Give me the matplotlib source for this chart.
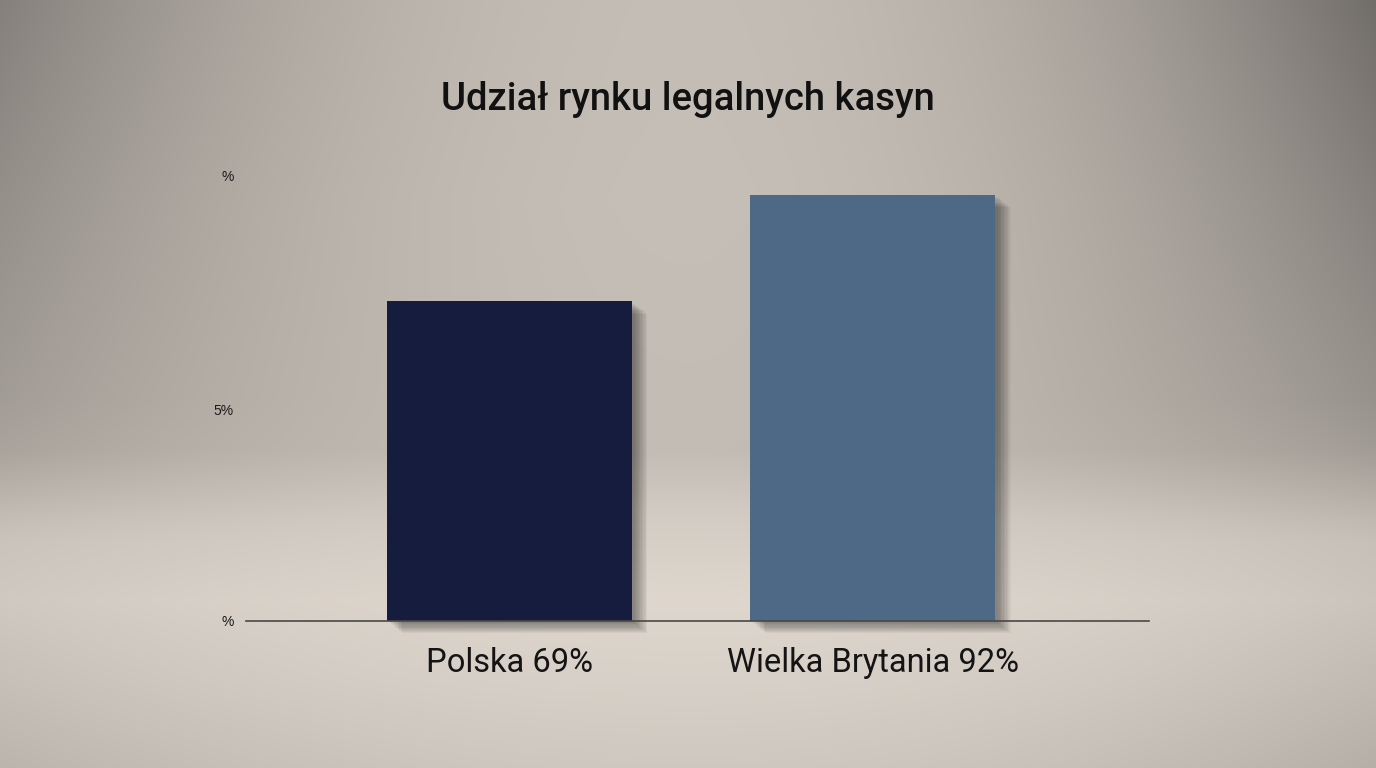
import numpy as np
import matplotlib
matplotlib.use("Agg")
import matplotlib.pyplot as plt
import matplotlib.patheffects as pe

# data
categories = ["Polska", "Wielka Brytania"]
shares = [69, 92]
bar_colors = ["#161c3e", "#4e6985"]
ytick_pos = [0, 45.6, 96.3]
ytick_labels = ["%", "5%", "%"]
title = "Udział rynku legalnych kasyn"

W, H = 1376, 768
fig = plt.figure(figsize=(W / 100, H / 100), dpi=100)

# soft studio backdrop: vertical light band plus darker edges
ys = np.arange(H)
xs = np.arange(W)
key_y = [0, 200, 450, 520, 600, 680, 768]
key_v = [0.74, 0.745, 0.735, 0.8, 0.84, 0.815, 0.78]
col = np.interp(ys, key_y, key_v)
dx = (xs - W / 2) / (W / 2)
side = np.where(dx > 0, 1.25, 0.95)
edge = np.interp(ys, [0, 400, 540, 768], [0.34, 0.18, 0.06, 0.1])
shade = 1 - edge[:, None] * side[None, :] * np.abs(dx[None, :]) ** 2.0
v = col[:, None] * shade
tint = np.array([1.0, 0.965, 0.925])
bg = np.clip(v[:, :, None] * tint[None, None, :] * 1.04, 0, 1)
bga = fig.add_axes([0, 0, 1, 1])
bga.imshow(bg, aspect="auto", extent=[0, 1, 0, 1])
bga.axis("off")

ax = fig.add_axes([246 / W, 147 / H, 903 / W, 471 / H])
ax.patch.set_alpha(0)
x = np.arange(len(categories))
bars = ax.bar(x, shares, width=0.675, color=bar_colors, zorder=3, clip_on=False)
shadow = [pe.SimplePatchShadow(offset=(i, -i * 0.8), shadow_rgbFace="black", alpha=0.045)
          for i in range(2, 12)]
for b in bars:
    b.set_path_effects(shadow + [pe.Normal()])

ax.set_xlim(-0.725, 1.76)
ax.set_ylim(0, 101.7)
for s in ["top", "right", "left"]:
    ax.spines[s].set_visible(False)
ax.spines["bottom"].set_color("#4a4744")
ax.spines["bottom"].set_linewidth(1.2)
ax.spines["bottom"].set_zorder(4)

ax.set_yticks(ytick_pos)
ax.set_yticklabels(ytick_labels, fontsize=10, family="Liberation Sans", color="#1a1a1a")
ax.tick_params(axis="y", length=0, pad=9)
ax.set_xticks(x)
ax.set_xticklabels([f"{c} {v}%" for c, v in zip(categories, shares)],
                   fontsize=23.5, family="Roboto", color="#141414")
ax.tick_params(axis="x", length=0, pad=19)

fig.text(0.5, 1 - 100 / H, title, ha="center", va="center", fontsize=27.5,
         family="Roboto", fontweight="medium", color="#111111")

fig.savefig("out.png", dpi=100)
